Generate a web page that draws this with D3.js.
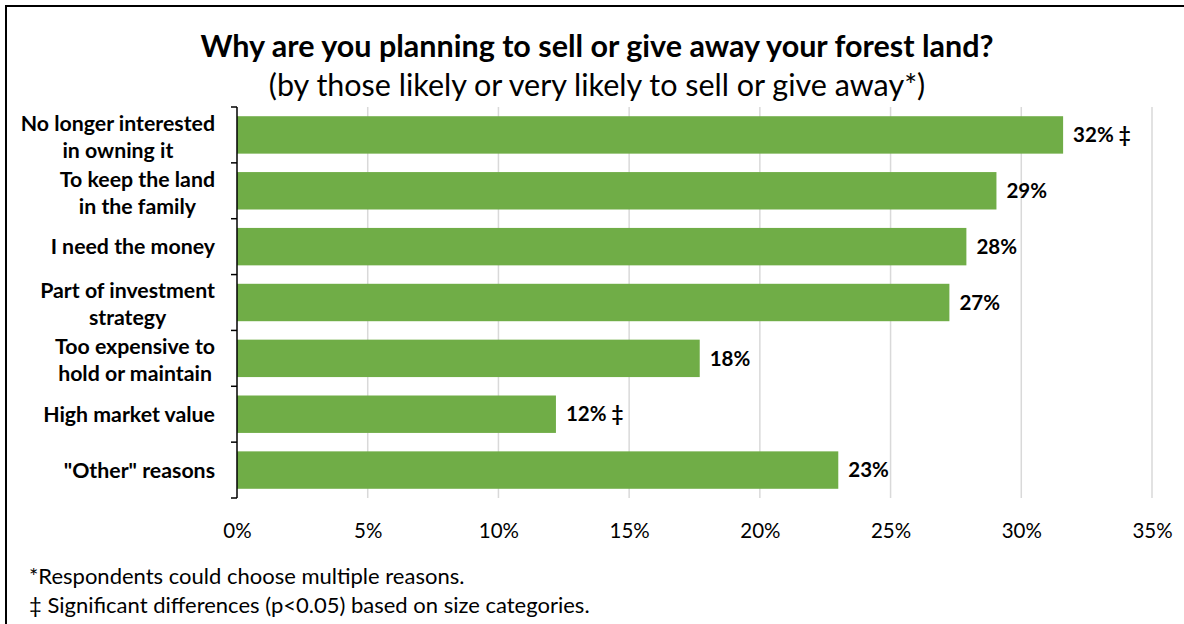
<!DOCTYPE html>
<html>
<head>
<meta charset="utf-8">
<script src="https://cdn.jsdelivr.net/npm/d3@7"></script>
<style>
  html, body { margin: 0; padding: 0; background: #fff; }
  svg { display: block; font-family: Lato, "Open Sans", sans-serif; }
</style>
</head>
<body>
<svg id="chart" width="1184" height="624"></svg>
<script>
// Reasons for planning to sell or give away forest land
const categories = [
  ["No longer interested", "in owning it"],
  ["To keep the land", "in the family"],
  ["I need the money"],
  ["Part of investment", "strategy"],
  ["Too expensive to", "hold or maintain"],
  ["High market value"],
  ["\"Other\" reasons"]
];
const shares = [0.316, 0.2905, 0.279, 0.2725, 0.177, 0.122, 0.230];
const significance = ["‡", "", "", "", "", "‡", ""];
const xTicks = [0, 0.05, 0.10, 0.15, 0.20, 0.25, 0.30, 0.35];

const titleText = "Why are you planning to sell or give away your forest land?";
const subtitleText = "(by those likely or very likely to sell or give away*)";
const footnotes = [
  "*Respondents could choose multiple reasons.",
  "‡ Significant differences (p<0.05) based on size categories."
];

const svg = d3.select("#chart");
const keys = categories.map((c, i) => i);

const x = d3.scaleLinear().domain([0, 0.35]).range([237, 1152]);
const y = d3.scaleBand().domain(keys).range([107, 498])
  .paddingInner(0.33).paddingOuter(0.165);

// outer frame
svg.append("rect")
  .attr("x", 6).attr("y", 6).attr("width", 1200).attr("height", 640)
  .attr("fill", "none").attr("stroke", "#000").attr("stroke-width", 2);

// title block
svg.append("text")
  .attr("x", 597).attr("y", 57)
  .attr("text-anchor", "middle")
  .attr("font-size", 30.5).attr("font-weight", 700).attr("fill", "#000")
  .text(titleText);
svg.append("text")
  .attr("x", 597).attr("y", 96)
  .attr("text-anchor", "middle")
  .attr("font-size", 30.5).attr("fill", "#000")
  .text(subtitleText);

// vertical gridlines
svg.append("g")
  .selectAll("line")
  .data(xTicks.filter(t => t > 0))
  .join("line")
  .attr("x1", d => x(d)).attr("x2", d => x(d))
  .attr("y1", 107).attr("y2", 498)
  .attr("stroke", "#d9d9d9").attr("stroke-width", 1.5);

// x axis labels
const xAxis = d3.axisBottom(x)
  .tickValues(xTicks)
  .tickFormat(d3.format(".0%"))
  .tickSize(0).tickPadding(0);
const gx = svg.append("g").attr("transform", "translate(0,522)").call(xAxis);
gx.select(".domain").remove();
gx.selectAll("text")
  .attr("font-family", "Lato, 'Open Sans', sans-serif")
  .attr("font-size", 20.5).attr("fill", "#000")
  .attr("dy", "0.8em");

// bars
svg.append("g")
  .selectAll("rect")
  .data(keys)
  .join("rect")
  .attr("x", x(0))
  .attr("y", d => y(d))
  .attr("width", d => x(shares[d]) - x(0))
  .attr("height", y.bandwidth())
  .attr("fill", "#70ad47");

// value labels
const pct = d3.format(".0%");
svg.append("g")
  .selectAll("text")
  .data(keys)
  .join("text")
  .attr("x", d => x(shares[d]) + 10)
  .attr("y", d => y(d) + y.bandwidth() / 2)
  .attr("dy", "0.35em")
  .attr("font-size", 20.5).attr("font-weight", 700).attr("fill", "#000")
  .text(d => pct(shares[d]) + (significance[d] ? " " + significance[d] : ""));

// y axis with ticks at category boundaries
const yLine = svg.append("g");
yLine.append("line")
  .attr("x1", 237).attr("x2", 237)
  .attr("y1", y.range()[0]).attr("y2", y.range()[1])
  .attr("stroke", "#000").attr("stroke-width", 1.5);
const bounds = keys.map(k => y(k) - y.step() * y.paddingInner() / 2);
bounds[0] = y.range()[0];
bounds.push(y.range()[1]);
yLine.selectAll("line.tick")
  .data(bounds)
  .join("line")
  .attr("class", "tick")
  .attr("x1", 231).attr("x2", 237)
  .attr("y1", d => d).attr("y2", d => d)
  .attr("stroke", "#000").attr("stroke-width", 1.5);

// category labels: wrapped lines centred on their widest line, block right-aligned
const labelRight = 215;
const lineGap = 27;
const gl = svg.append("g");
keys.forEach(k => {
  const lines = categories[k];
  const t = gl.append("text")
    .attr("font-size", 21.3).attr("font-weight", 700).attr("fill", "#000")
    .attr("text-anchor", "middle");
  const cy = y(k) + y.bandwidth() / 2 + (lines.length > 1 ? 2 : 0);
  lines.forEach((ln, i) => {
    t.append("tspan")
      .attr("y", cy + (i - (lines.length - 1) / 2) * lineGap)
      .attr("dy", "0.35em")
      .text(ln);
  });
  let maxW = 0;
  t.selectAll("tspan").each(function() {
    maxW = Math.max(maxW, this.getComputedTextLength());
  });
  t.selectAll("tspan").attr("x", labelRight - maxW / 2);
});

// footnotes
svg.append("g")
  .selectAll("text")
  .data(footnotes)
  .join("text")
  .attr("x", 29)
  .attr("y", (d, i) => 584 + i * 29)
  .attr("font-size", 22).attr("fill", "#000")
  .text(d => d);
</script>
</body>
</html>
